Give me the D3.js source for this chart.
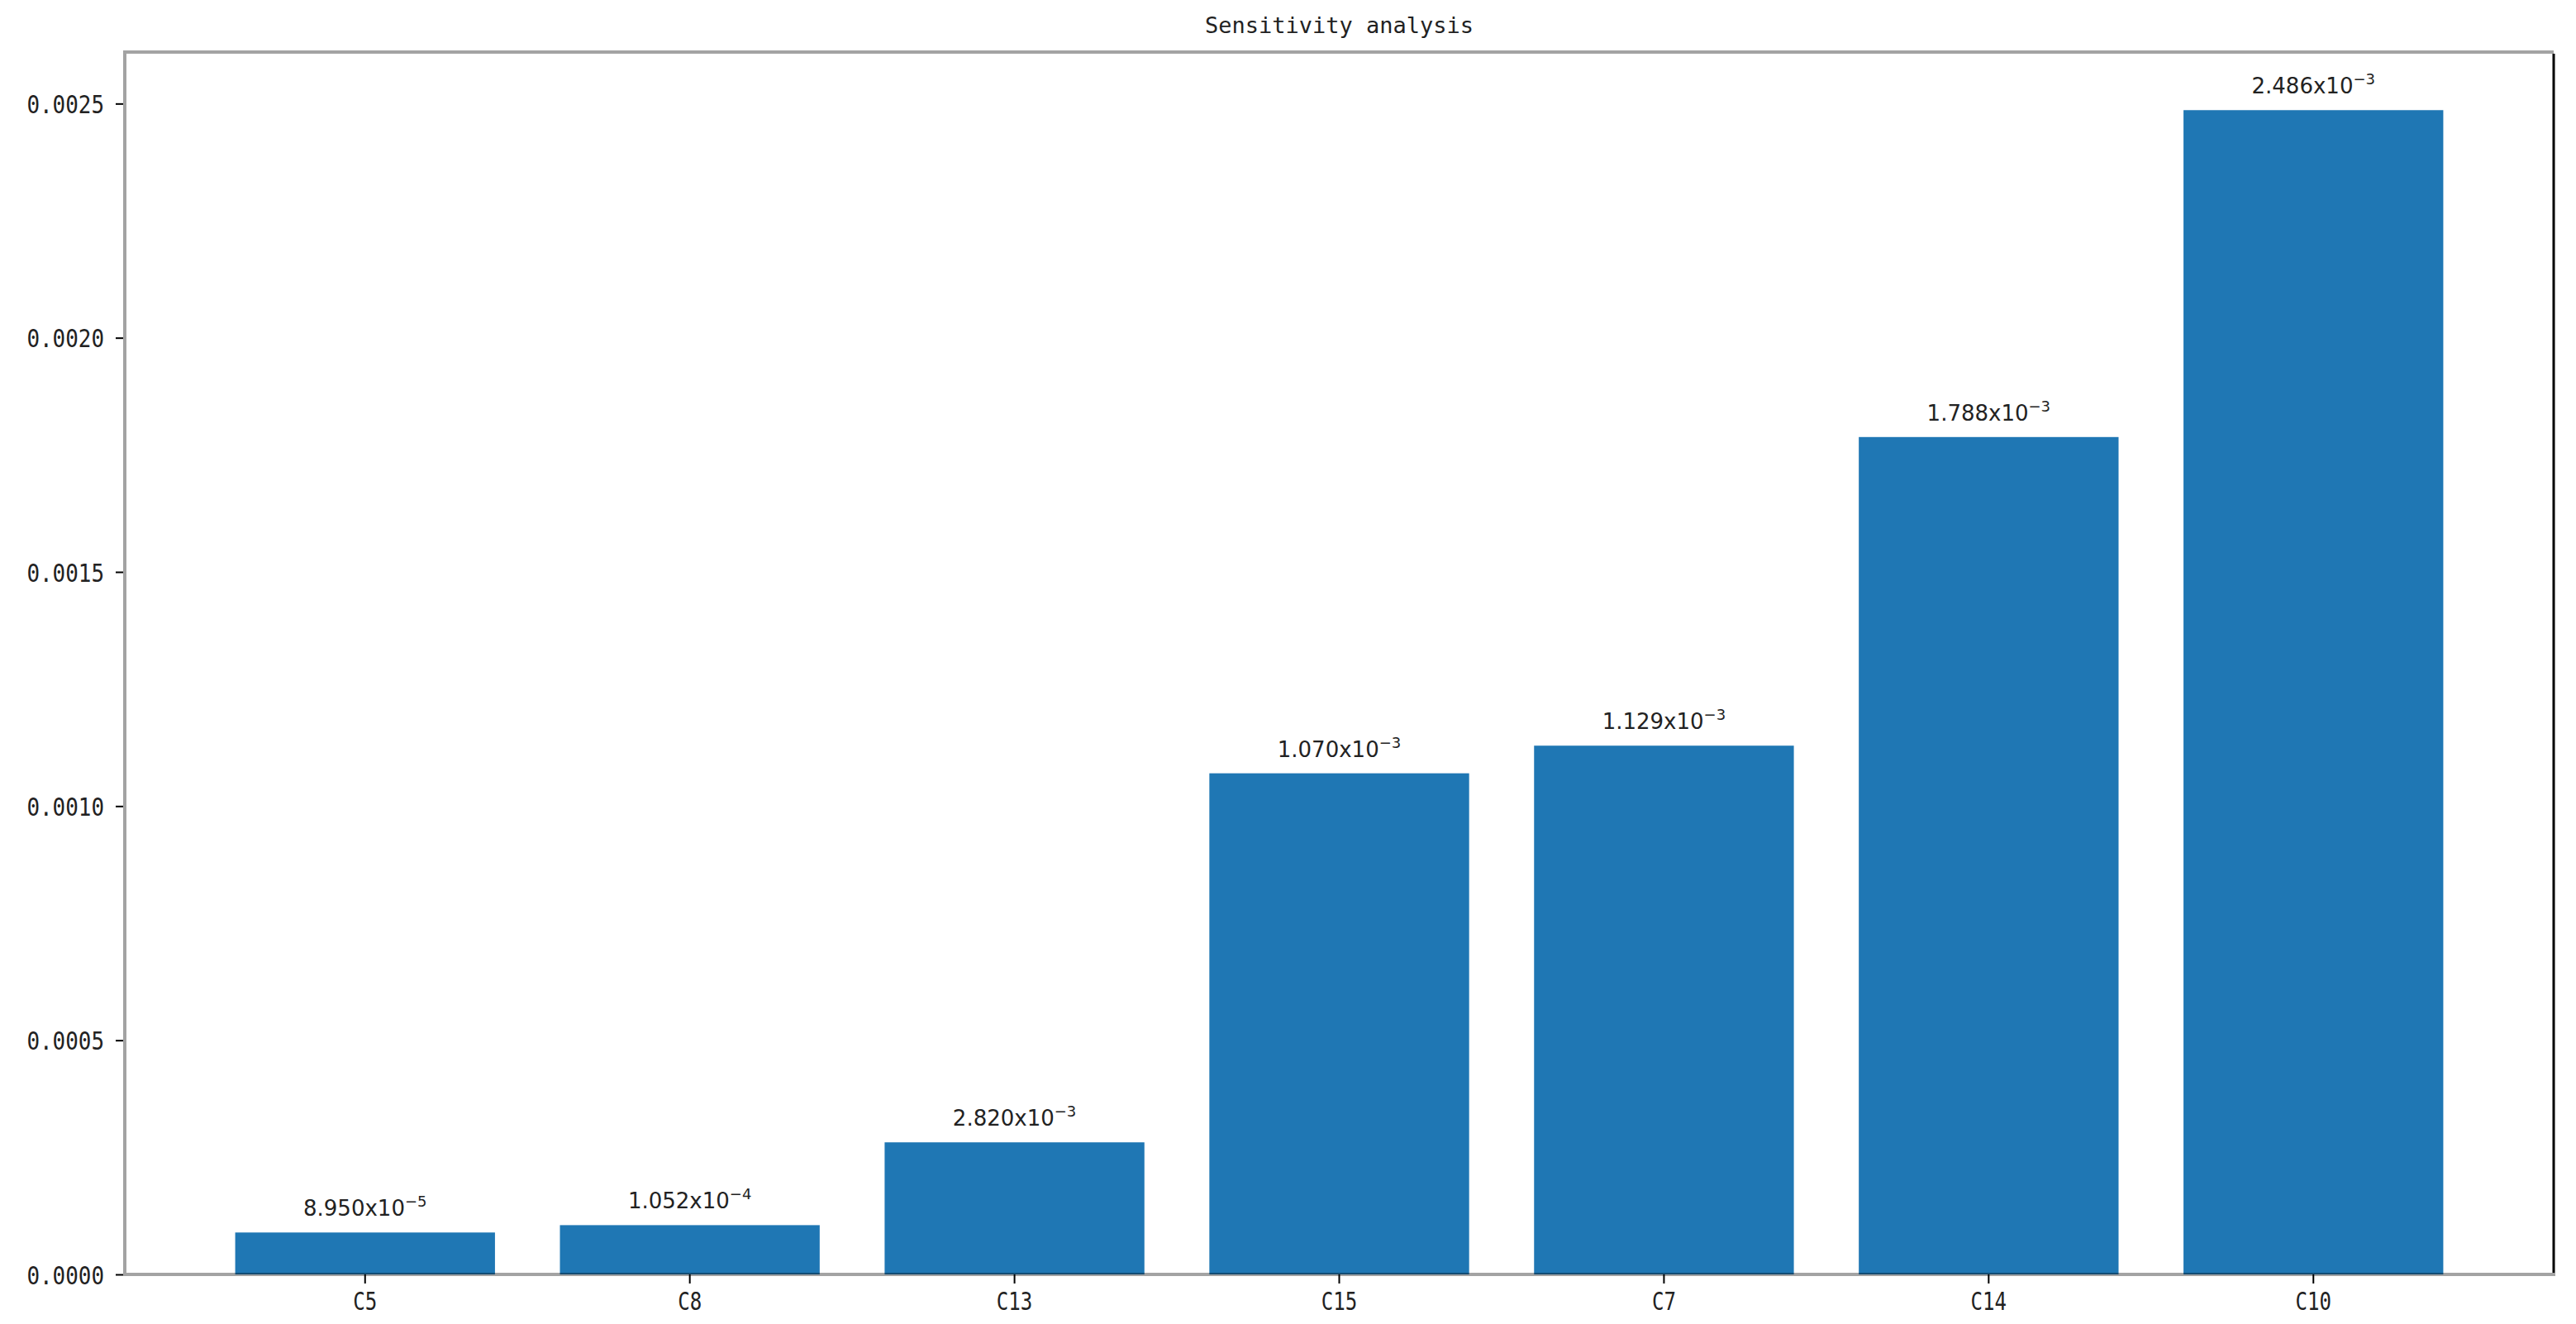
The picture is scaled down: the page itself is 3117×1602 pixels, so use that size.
<!DOCTYPE html>
<html>
<head>
<meta charset="utf-8">
<script src="https://cdn.jsdelivr.net/npm/d3@7"></script>
<style>
  html, body { margin: 0; padding: 0; background: #fff; }
  svg { display: block; }
</style>
</head>
<body>
<svg id="chart" width="3117" height="1602"></svg>
<script>
// ---- data ----
const categories = ["C5", "C8", "C13", "C15", "C7", "C14", "C10"];
const values = [0.0000895, 0.0001052, 0.000282, 0.00107, 0.001129, 0.001788, 0.002486];
const labelMantissa = ["8.950", "1.052", "2.820", "1.070", "1.129", "1.788", "2.486"];
const labelExponent = ["5", "4", "3", "3", "3", "3", "3"];
const yTicks = [0, 0.0005, 0.0010, 0.0015, 0.0020, 0.0025];
const titleText = "Sensitivity analysis";

(function () {
// ---- layout ----
const mLeft = 151, mRight = 3090, mTop = 63, mBottom = 1542;
const svg = d3.select("#chart");

const x = d3.scaleBand().domain(categories).range([mLeft, mRight])
  .paddingInner(0.2).paddingOuter(0.34);
const y = d3.scaleLinear().domain([0, 0.00261]).range([mBottom, mTop]);

// bars
svg.append("g").selectAll("rect").data(values).join("rect")
  .attr("x", (d, i) => x(categories[i]))
  .attr("width", x.bandwidth())
  .attr("y", d => y(d))
  .attr("height", d => y(0) - y(d))
  .attr("fill", "#1f77b4");

// value labels
const lab = svg.append("g").selectAll("text").data(values).join("text")
  .attr("x", (d, i) => x(categories[i]) + x.bandwidth() / 2)
  .attr("y", d => y(d) - 20)
  .attr("text-anchor", "middle")
  .attr("font-family", "DejaVu Sans")
  .attr("font-size", 26)
  .attr("fill", "#222");
lab.append("tspan").text((d, i) => labelMantissa[i] + "x10");
lab.append("tspan").attr("dy", -11).attr("font-size", 18)
  .text((d, i) => "\u2212" + labelExponent[i]);

// spines
const spine = svg.append("g");
spine.append("line").attr("x1", mLeft).attr("x2", mLeft).attr("y1", mTop - 2).attr("y2", mBottom + 2)
  .attr("stroke", "rgba(0,0,0,0.36)").attr("stroke-width", 4);
spine.append("line").attr("x1", mLeft + 2).attr("x2", mRight).attr("y1", mTop).attr("y2", mTop)
  .attr("stroke", "rgba(0,0,0,0.36)").attr("stroke-width", 4);
spine.append("line").attr("x1", mLeft + 2).attr("x2", mRight + 2).attr("y1", mBottom).attr("y2", mBottom)
  .attr("stroke", "rgba(0,0,0,0.36)").attr("stroke-width", 4);
spine.append("line").attr("x1", mRight).attr("x2", mRight).attr("y1", mTop + 2).attr("y2", mBottom - 2)
  .attr("stroke", "#000").attr("stroke-width", 3);

// y axis
const fmt = d3.format(".4f");
const yAxis = d3.axisLeft(y).tickValues(yTicks).tickFormat(fmt)
  .tickSize(9).tickPadding(14);
const gy = svg.append("g").attr("transform", `translate(${mLeft - 2},0)`).call(yAxis);
gy.select(".domain").remove();
gy.selectAll(".tick line").attr("stroke", "#000").attr("stroke-width", 2);
gy.selectAll(".tick text")
  .attr("font-family", "DejaVu Sans Mono")
  .attr("font-size", 31)
  .attr("fill", "#222")
  .attr("dy", "0.36em")
  .attr("textLength", d => fmt(d).length * 15.6)
  .attr("lengthAdjust", "spacingAndGlyphs");

// x axis
const xAxis = d3.axisBottom(x).tickSize(11).tickPadding(10);
const gx = svg.append("g").attr("transform", `translate(0,${mBottom})`).call(xAxis);
gx.select(".domain").remove();
gx.selectAll(".tick line").attr("stroke", "#000").attr("stroke-width", 2);
gx.selectAll(".tick text")
  .attr("font-family", "DejaVu Sans Mono")
  .attr("font-size", 31)
  .attr("fill", "#222")
  .attr("dy", "0.72em")
  .attr("textLength", d => d.length * 14.5)
  .attr("lengthAdjust", "spacingAndGlyphs");

// title
svg.append("text")
  .attr("x", (mLeft + mRight) / 2)
  .attr("y", 40)
  .attr("text-anchor", "middle")
  .attr("font-family", "DejaVu Sans Mono")
  .attr("font-size", 27)
  .attr("fill", "#222")
  .text(titleText);
})();
</script>
</body>
</html>
